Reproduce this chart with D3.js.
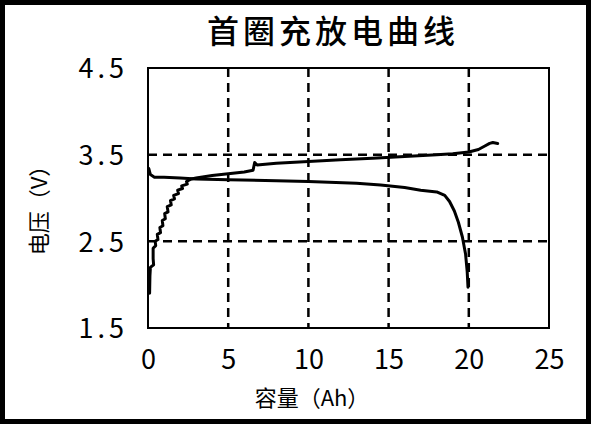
<!DOCTYPE html>
<html lang="zh-CN">
<head>
    <meta charset="utf-8">
    <script src="https://d3js.org/d3.v7.min.js"></script>
    <style>
        html, body {
            margin: 0;
            padding: 0;
            background: white;
        }

        svg {
            display: block;
        }

        text {
            font-family: "Noto Sans CJK SC", sans-serif;
            fill: black;
        }

        .grid line {
            stroke: black;
            stroke-width: 2.5;
            stroke-dasharray: 9 6;
        }

        .curve {
            fill: none;
            stroke: black;
            stroke-width: 3;
            stroke-linejoin: round;
            stroke-linecap: round;
        }
    </style>
</head>
<body>
<svg id="chart" width="593" height="437"></svg>
<script>
    var title = "首圈充放电曲线",
        xTitle = "容量（Ah）",
        yTitle = "电压（V）";

    var xTicks = [0, 5, 10, 15, 20, 25],
        yTicks = [1.5, 2.5, 3.5, 4.5];

    // charge curve [Ah, V] (stair-steps at the start)
    var charge = [
        [0.1, 1.9], [0.12, 2.1], [0.15, 2.2], [0.35, 2.23], [0.32, 2.3], [0.32, 2.42],
        [0.48, 2.45], [0.45, 2.5], [0.62, 2.52], [0.58, 2.58], [0.78, 2.6], [0.74, 2.66],
        [0.93, 2.68], [0.89, 2.74], [1.08, 2.76], [1.04, 2.82], [1.25, 2.84], [1.2, 2.9],
        [1.45, 2.92], [1.4, 2.97], [1.65, 2.99], [1.6, 3.03], [1.9, 3.05], [1.85, 3.09],
        [2.15, 3.11], [2.1, 3.14], [2.45, 3.16], [2.4, 3.19], [2.7, 3.22], [3, 3.23],
        [4, 3.26], [5, 3.28], [6, 3.3], [6.55, 3.32], [6.65, 3.41], [6.8, 3.38],
        [8, 3.4], [10, 3.42], [12, 3.44], [14, 3.46], [16, 3.48], [18, 3.5],
        [19, 3.51], [20, 3.53], [20.6, 3.56], [21, 3.6], [21.3, 3.63], [21.5, 3.64], [21.8, 3.63]
    ];

    // discharge curve [Ah, V]
    var discharge = [
        [0.05, 3.34], [0.15, 3.27], [0.4, 3.24], [1, 3.24], [2, 3.23], [3, 3.22],
        [5, 3.21], [8, 3.2], [10, 3.19], [13, 3.17], [14.5, 3.15], [16, 3.12],
        [17, 3.09], [18, 3.07], [18.5, 3.03], [18.8, 2.96], [19.1, 2.85], [19.35, 2.72],
        [19.6, 2.55], [19.8, 2.35], [19.9, 2.15], [19.95, 1.97]
    ];

    var svg = d3.select("#chart");

    var margin = {left: 148, top: 68, right: 549, bottom: 328};

    var x = d3.scaleLinear().domain([0, 25]).range([margin.left, margin.right]);
    var y = d3.scaleLinear().domain([1.5, 4.5]).range([margin.bottom, margin.top]);

    // outer black frame
    svg.append("rect")
        .attr("x", 2.5).attr("y", 2.5)
        .attr("width", 586).attr("height", 419)
        .attr("fill", "white")
        .attr("stroke", "black")
        .attr("stroke-width", 5);

    // dashed grid
    var grid = svg.append("g").attr("class", "grid");
    grid.selectAll("line.v")
        .data(xTicks.slice(1, -1))
        .enter().append("line")
        .attr("x1", function (d) { return x(d); })
        .attr("x2", function (d) { return x(d); })
        .attr("y1", y(4.5)).attr("y2", y(1.5));
    grid.selectAll("line.h")
        .data(yTicks.slice(1, -1))
        .enter().append("line")
        .attr("class", "h")
        .attr("x1", x(0)).attr("x2", x(25))
        .attr("y1", function (d) { return y(d); })
        .attr("y2", function (d) { return y(d); });

    // plot frame
    svg.append("rect")
        .attr("x", x(0)).attr("y", y(4.5))
        .attr("width", x(25) - x(0)).attr("height", y(1.5) - y(4.5))
        .attr("fill", "none")
        .attr("stroke", "black")
        .attr("stroke-width", 2);

    // axes (labels only)
    var xAxis = svg.append("g")
        .attr("transform", "translate(0," + (y(1.5) + 22) + ")")
        .call(d3.axisBottom(x).tickValues(xTicks).tickSize(0).tickPadding(0).tickFormat(d3.format("d")));
    xAxis.select(".domain").remove();
    xAxis.selectAll("text")
        .attr("dy", "0.71em")
        .style("font-size", "27px");

    var yAxis = svg.append("g")
        .attr("transform", "translate(" + (x(0) - 20) + ",0)")
        .call(d3.axisLeft(y).tickValues(yTicks).tickSize(0).tickPadding(0).tickFormat(d3.format(".1f")));
    yAxis.select(".domain").remove();
    yAxis.selectAll("text")
        .attr("dy", "0.36em")
        .style("font-size", "27px")
        .style("letter-spacing", "4px");

    // curves
    var line = d3.line()
        .x(function (d) { return x(d[0]); })
        .y(function (d) { return y(d[1]); });

    svg.append("path").attr("class", "curve").attr("d", line(discharge));
    svg.append("path").attr("class", "curve").attr("d", line(charge));

    // titles
    svg.append("text")
        .attr("x", 333).attr("y", 43)
        .attr("text-anchor", "middle")
        .style("font-size", "32px")
        .style("font-weight", 500)
        .style("letter-spacing", "4px")
        .text(title);

    svg.append("text")
        .attr("x", 312).attr("y", 406)
        .attr("text-anchor", "middle")
        .style("font-size", "22px")
        .text(xTitle);

    svg.append("text")
        .attr("transform", "translate(47,205) rotate(-90)")
        .attr("text-anchor", "middle")
        .style("font-size", "22px")
        .text(yTitle);
</script>
</body>
</html>
